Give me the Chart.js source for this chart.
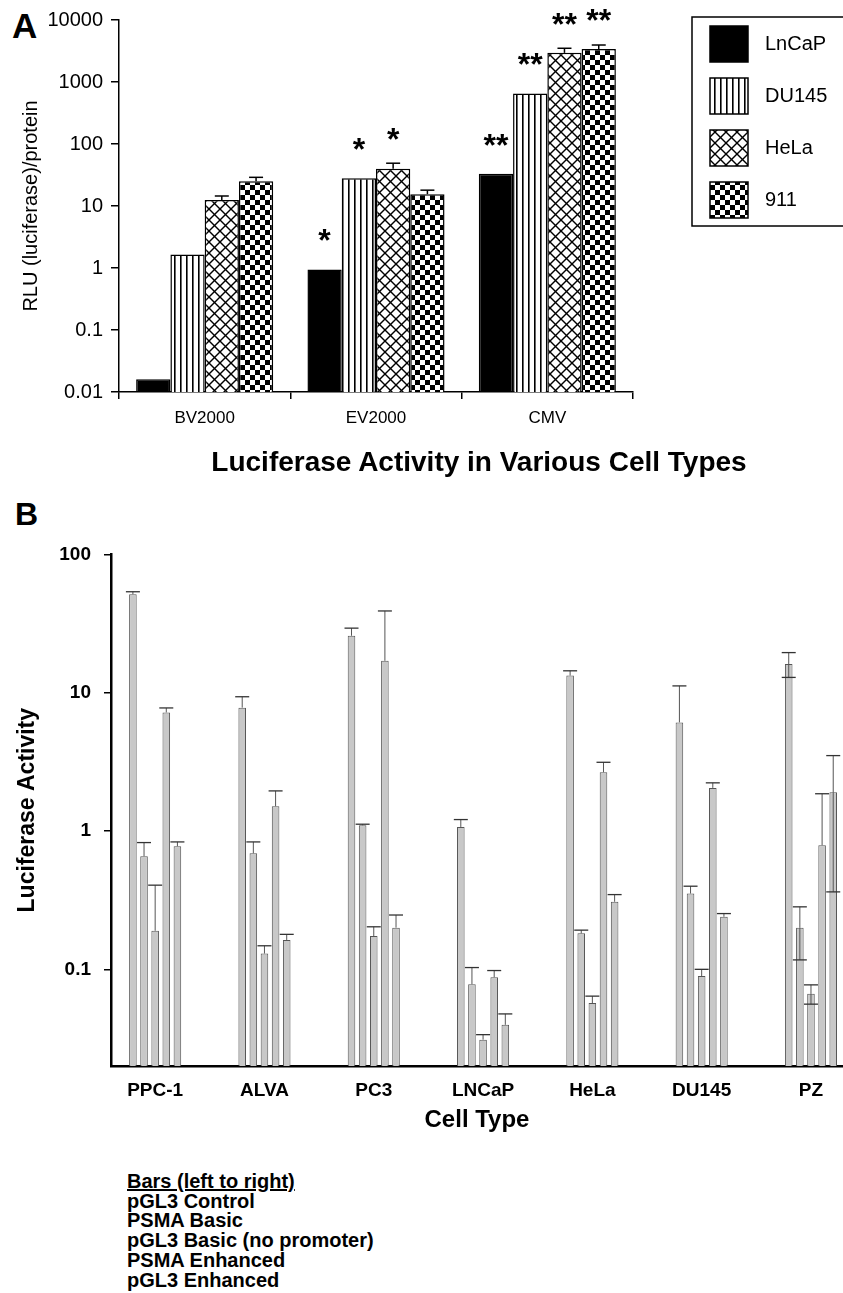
<!DOCTYPE html>
<html>
<head>
<meta charset="utf-8">
<title>Luciferase Activity</title>
<script src="https://cdn.jsdelivr.net/npm/chart.js@4.4.1/dist/chart.umd.min.js"></script>
<style>
  html, body { margin: 0; padding: 0; background: #fff; }
  body { width: 843px; height: 1293px; position: relative; overflow: hidden;
         font-family: "Liberation Sans", Arial, sans-serif; color: #000; }
  canvas { position: absolute; left: 0; }
  #chartA { top: 0; }
  #chartB { top: 530px; }
  .panel-letter { position: absolute; font-weight: bold; line-height: 1; }
  #titleA { position: absolute; left: 479px; top: 448px; transform: translateX(-50%);
            font-size: 28px; line-height: 28px; font-weight: bold; white-space: nowrap; }
  #bars-key { position: absolute; left: 127px; top: 1172px; font-weight: bold;
              font-size: 20px; line-height: 19.7px; }
  #bars-key div:first-child { text-decoration: underline; }
</style>
</head>
<body>
<div class="panel-letter" style="left:12px;top:8px;font-size:35px">A</div>
<div class="panel-letter" style="left:15px;top:498px;font-size:32px">B</div>
<canvas id="chartA" width="843" height="478"></canvas>
<div id="titleA">Luciferase Activity in Various Cell Types</div>
<canvas id="chartB" width="843" height="605"></canvas>
<div id="bars-key"></div>

<script>
// ---- Panel A : promoters x cell lines ----
const promotersA = ['BV2000', 'EV2000', 'CMV'];
const cellLinesA = ['LnCaP', 'DU145', 'HeLa', '911'];
const ticksA = [0.01, 0.1, 1, 10, 100, 1000, 10000];

const lncapA = [0.016, 0.95, 33];
const du145A = [1.65, 28, 650];
const helaA = [12.5, 40, 2950];
const cell911A = [25, 15.5, 3400];

// upper ends of the error bars (null = none drawn)
const lncapErrA = [null, null, null];
const du145ErrA = [null, null, null];
const helaErrA = [14.5, 49, 3500];
const cell911ErrA = [29, 18, 3950];

const lncapStarsA = ['', '*', '**'];
const du145StarsA = ['', '*', '**'];
const helaStarsA = ['', '*', '**'];
const cell911StarsA = ['', '', '**'];

// ---- Panel B : cell types x constructs ----
const cellTypesB = ['PPC-1', 'ALVA', 'PC3', 'LNCaP', 'HeLa', 'DU145', 'PZ'];
const constructsB = ['pGL3 Control', 'PSMA Basic', 'pGL3 Basic (no promoter)', 'PSMA Enhanced', 'pGL3 Enhanced'];
const ticksB = [0.1, 1, 10, 100];

const pgl3ControlB = [51.5, 7.8, 25.8, 1.07, 13.3, 6.1, 16.1];
const psmaBasicB = [0.657, 0.69, 1.1, 0.078, 0.182, 0.353, 0.2];
const pgl3BasicB = [0.19, 0.13, 0.174, 0.031, 0.057, 0.0895, 0.0665];
const psmaEnhancedB = [7.2, 1.51, 17, 0.0877, 2.66, 2.05, 0.789];
const pgl3EnhancedB = [0.776, 0.163, 0.2, 0.0397, 0.308, 0.24, 1.91];

const pgl3ControlHiB = [53.7, 9.35, 29.3, 1.21, 14.4, 11.2, 19.5];
const psmaBasicHiB = [0.825, 0.834, 1.12, 0.103, 0.192, 0.399, 0.283];
const pgl3BasicHiB = [0.406, 0.148, 0.203, 0.0337, 0.064, 0.1, 0.0772];
const psmaEnhancedHiB = [7.76, 1.95, 39, 0.098, 3.14, 2.23, 1.86];
const pgl3EnhancedHiB = [0.834, 0.179, 0.247, 0.0476, 0.347, 0.253, 3.51];

// lower error caps are only visible for PZ
const pgl3ControlLoB = [null, null, null, null, null, null, 12.9];
const psmaBasicLoB = [null, null, null, null, null, null, 0.117];
const pgl3BasicLoB = [null, null, null, null, null, null, 0.056];
const psmaEnhancedLoB = [null, null, null, null, null, null, null];
const pgl3EnhancedLoB = [null, null, null, null, null, null, 0.363];

Chart.defaults.font.family = '"Liberation Sans", Arial, sans-serif';
Chart.defaults.color = '#000';

// fill patterns for the black & white bars
function makePattern(kind) {
    const c = document.createElement('canvas');
    const g = c.getContext('2d');
    if (kind === 'stripes') {
        c.width = 6; c.height = 6;
        g.fillStyle = '#fff'; g.fillRect(0, 0, 6, 6);
        g.fillStyle = '#000'; g.fillRect(0, 0, 1.6, 6);
    } else if (kind === 'hatch') {
        const s = 11;
        c.width = s; c.height = s;
        g.fillStyle = '#fff'; g.fillRect(0, 0, s, s);
        g.strokeStyle = '#000'; g.lineWidth = 1.4;
        [-s, 0, s].forEach(o => {
            g.beginPath(); g.moveTo(o - 1, -1); g.lineTo(o + s + 1, s + 1); g.stroke();
            g.beginPath(); g.moveTo(o + s + 1, -1); g.lineTo(o - 1, s + 1); g.stroke();
        });
    } else {
        c.width = 10; c.height = 10;
        g.fillStyle = '#000'; g.fillRect(0, 0, 10, 10);
        g.fillStyle = '#fff'; g.fillRect(0, 0, 5, 5); g.fillRect(5, 5, 5, 5);
    }
    return g.createPattern(c, 'repeat');
}

// error bars drawn from bar top to the stored value
const errorBarPlugin = {
    id: 'errorBars',
    afterDatasetsDraw(chart, args, opts) {
        const ctx = chart.ctx;
        const yScale = chart.scales.y;
        ctx.save();
        chart.data.datasets.forEach((ds, di) => {
            const meta = chart.getDatasetMeta(di);
            meta.data.forEach((bar, i) => {
                [ds.errHigh, ds.errLow].forEach(list => {
                    const v = list ? list[i] : null;
                    if (v == null) return;
                    const y = yScale.getPixelForValue(v);
                    ctx.strokeStyle = opts.stemColor;
                    ctx.lineWidth = opts.stemWidth;
                    ctx.beginPath(); ctx.moveTo(bar.x, bar.y); ctx.lineTo(bar.x, y); ctx.stroke();
                    ctx.strokeStyle = opts.capColor;
                    ctx.lineWidth = opts.capWidth;
                    ctx.beginPath(); ctx.moveTo(bar.x - opts.capHalf, y); ctx.lineTo(bar.x + opts.capHalf, y); ctx.stroke();
                });
            });
        });
        ctx.restore();
    }
};

// significance asterisks above the bars
const starPlugin = {
    id: 'stars',
    afterDatasetsDraw(chart, args, opts) {
        const ctx = chart.ctx;
        ctx.save();
        ctx.font = 'bold ' + opts.size + 'px "Liberation Sans", Arial, sans-serif';
        ctx.fillStyle = '#000';
        ctx.textAlign = 'center';
        ctx.textBaseline = 'alphabetic';
        chart.data.datasets.forEach((ds, di) => {
            if (!ds.stars) return;
            const meta = chart.getDatasetMeta(di);
            meta.data.forEach((bar, i) => {
                const s = ds.stars[i];
                if (!s) return;
                const cy = bar.y - opts.gap;
                ctx.fillText(s, bar.x, cy + opts.size * 0.555);
            });
        });
        ctx.restore();
    }
};

// boxed legend at the right of panel A
const legendBoxPlugin = {
    id: 'legendBox',
    afterDraw(chart, args, opts) {
        const ctx = chart.ctx;
        ctx.save();
        ctx.strokeStyle = '#000';
        ctx.lineWidth = 1.5;
        ctx.strokeRect(opts.x, opts.y, opts.width, opts.height);
        ctx.font = opts.size + 'px "Liberation Sans", Arial, sans-serif';
        ctx.textBaseline = 'middle';
        ctx.textAlign = 'left';
        chart.data.datasets.forEach((ds, i) => {
            const cy = opts.y + opts.first + i * opts.step;
            const sx = opts.x + 18;
            ctx.fillStyle = ds.backgroundColor;
            ctx.fillRect(sx, cy - 18, 38, 36);
            ctx.lineWidth = 1.5;
            ctx.strokeRect(sx, cy - 18, 38, 36);
            ctx.fillStyle = '#000';
            ctx.fillText(ds.label, sx + 55, cy);
        });
        ctx.restore();
    }
};

new Chart(document.getElementById('chartA'), {
    type: 'bar',
    data: {
        labels: promotersA,
        datasets: [
            { label: cellLinesA[0], data: lncapA, errHigh: lncapErrA, stars: lncapStarsA, backgroundColor: '#000' },
            { label: cellLinesA[1], data: du145A, errHigh: du145ErrA, stars: du145StarsA, backgroundColor: makePattern('stripes') },
            { label: cellLinesA[2], data: helaA, errHigh: helaErrA, stars: helaStarsA, backgroundColor: makePattern('hatch') },
            { label: cellLinesA[3], data: cell911A, errHigh: cell911ErrA, stars: cell911StarsA, backgroundColor: makePattern('checker') }
        ]
    },
    options: {
        responsive: false,
        animation: false,
        devicePixelRatio: 1,
        layout: { padding: { top: 20, right: 210, left: 0, bottom: 0 } },
        datasets: { bar: { categoryPercentage: 0.8, barPercentage: 1, borderColor: '#000', borderWidth: 1.5 } },
        plugins: {
            colors: { enabled: false },
            legend: { display: false },
            tooltip: { enabled: false },
            errorBars: { stemColor: '#000', stemWidth: 1.5, capColor: '#000', capWidth: 1.5, capHalf: 7 },
            stars: { size: 32, gap: 36 },
            legendBox: { x: 692, y: 17, width: 200, height: 209, first: 27, step: 52, size: 20 }
        },
        scales: {
            x: {
                grid: { drawOnChartArea: false, drawTicks: true, tickLength: 7, color: '#000', lineWidth: 1.5 },
                border: { color: '#000', width: 1.5 },
                ticks: { font: { size: 17 }, color: '#000', padding: 9, maxRotation: 0 },
                afterFit: (axis) => { axis.height = 86; }
            },
            y: {
                type: 'logarithmic',
                min: 0.01,
                max: 10000,
                afterBuildTicks: (axis) => { axis.ticks = ticksA.map(v => ({ value: v })); },
                ticks: { callback: (v) => String(v), font: { size: 20 }, color: '#000', padding: 8 },
                grid: { drawOnChartArea: false, tickLength: 8, color: '#000', lineWidth: 1.5 },
                border: { color: '#000', width: 1.5 },
                title: { display: true, text: 'RLU (luciferase)/protein', font: { size: 20 },
                         color: '#000', padding: { top: 19, bottom: 0 } },
                afterFit: (axis) => { axis.width = 119; }
            }
        }
    },
    plugins: [errorBarPlugin, starPlugin, legendBoxPlugin]
});

const toXY = (vals) => vals.map((v, i) => ({ x: i, y: v }));
const greyBar = { backgroundColor: '#c8c8c8', borderColor: '#555', borderWidth: 1 };

new Chart(document.getElementById('chartB'), {
    type: 'bar',
    data: {
        datasets: [
            { label: constructsB[0], data: toXY(pgl3ControlB), errHigh: pgl3ControlHiB, errLow: pgl3ControlLoB, ...greyBar },
            { label: constructsB[1], data: toXY(psmaBasicB), errHigh: psmaBasicHiB, errLow: psmaBasicLoB, ...greyBar },
            { label: constructsB[2], data: toXY(pgl3BasicB), errHigh: pgl3BasicHiB, errLow: pgl3BasicLoB, ...greyBar },
            { label: constructsB[3], data: toXY(psmaEnhancedB), errHigh: psmaEnhancedHiB, errLow: psmaEnhancedLoB, ...greyBar },
            { label: constructsB[4], data: toXY(pgl3EnhancedB), errHigh: pgl3EnhancedHiB, errLow: pgl3EnhancedLoB, ...greyBar }
        ]
    },
    options: {
        responsive: false,
        animation: false,
        devicePixelRatio: 1,
        layout: { padding: { top: 23, right: 0, left: 0, bottom: 0 } },
        datasets: { bar: { categoryPercentage: 0.509, barPercentage: 0.68 } },
        plugins: {
            colors: { enabled: false },
            legend: { display: false },
            tooltip: { enabled: false },
            errorBars: { stemColor: '#555', stemWidth: 1, capColor: '#333', capWidth: 1.3, capHalf: 7 }
        },
        scales: {
            x: {
                type: 'linear',
                min: -0.404,
                max: 6.293,
                offset: false,
                afterBuildTicks: (axis) => { axis.ticks = cellTypesB.map((c, i) => ({ value: i })); },
                grid: { display: false, offset: false },
                border: { color: '#000', width: 2.5 },
                ticks: { callback: (v) => cellTypesB[v], font: { size: 19, weight: 'bold' },
                         color: '#000', padding: 5, maxRotation: 0, autoSkip: false },
                title: { display: true, text: 'Cell Type', font: { size: 24, weight: 'bold' },
                         color: '#000', padding: 0 },
                afterFit: (axis) => { axis.height = 69; }
            },
            y: {
                type: 'logarithmic',
                min: 0.02,
                max: 100,
                afterBuildTicks: (axis) => { axis.ticks = ticksB.map(v => ({ value: v })); },
                ticks: { callback: (v) => String(v), font: { size: 19, weight: 'bold' }, color: '#000', padding: 13 },
                grid: { drawOnChartArea: false, tickLength: 7, color: '#000', lineWidth: 1.5 },
                border: { color: '#000', width: 2.5 },
                title: { display: true, text: 'Luciferase Activity', font: { size: 23, weight: 'bold' },
                         color: '#000', padding: { top: 14, bottom: 0 } },
                afterFit: (axis) => { axis.width = 111; }
            }
        }
    },
    plugins: [errorBarPlugin]
});

// key listing the bar order in panel B
const key = document.getElementById('bars-key');
['Bars (left to right)'].concat(constructsB).forEach(t => {
    const d = document.createElement('div');
    d.textContent = t;
    key.appendChild(d);
});
</script>
</body>
</html>
